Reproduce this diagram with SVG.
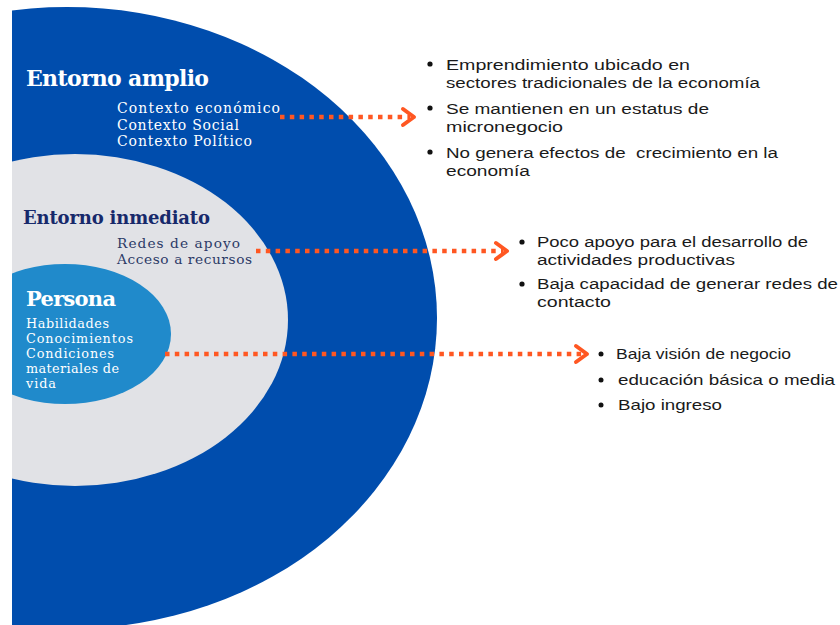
<svg xmlns="http://www.w3.org/2000/svg" width="840" height="625" viewBox="0 0 840 625">
<defs>
<clipPath id="clip"><rect x="12" y="0" width="828" height="625"/></clipPath>
<style>
.serif{font-family:"DejaVu Serif","Liberation Serif",serif;}
.title{font-weight:bold;}
.w{fill:#ffffff;}
.list{font-family:"Liberation Sans","Noto Sans",sans-serif;font-size:15.5px;fill:#1a1a1a;}
.list3{font-family:"Liberation Sans","Noto Sans",sans-serif;font-size:15px;fill:#1a1a1a;}
.dots{fill:none;stroke:#ff5722;stroke-width:4.5;stroke-dasharray:4.5 5.3;}
.head{fill:none;stroke:#ff5722;stroke-width:4;stroke-linecap:round;stroke-linejoin:round;}
.bullet{fill:#111111;}
</style>
</defs>
<rect width="840" height="625" fill="#ffffff"/>
<g clip-path="url(#clip)">
<g id="entorno-amplio">
<ellipse cx="67" cy="318" rx="370" ry="311" fill="#004dad"/>
</g>
<g id="entorno-inmediato">
<ellipse cx="75" cy="320" rx="213" ry="166" fill="#e1e2e6"/>
</g>
<g id="persona">
<ellipse cx="65" cy="334" rx="106" ry="70" fill="#208acb"/>
</g>
</g>
<g id="labels-amplio" class="serif">
<text x="26" y="86" class="title w" font-size="22" textLength="183">Entorno amplio</text>
<text x="117" y="113" class="w" font-size="14" textLength="163">Contexto económico</text>
<text x="117" y="129.5" class="w" font-size="14" textLength="122">Contexto Social</text>
<text x="117" y="146" class="w" font-size="14" textLength="135">Contexto Político</text>
</g>
<g id="labels-inmediato" class="serif">
<text x="23" y="224" class="title" font-size="18" fill="#17296b" textLength="187">Entorno inmediato</text>
<text x="117" y="248" font-size="13.7" fill="#2c3a66" textLength="123">Redes de apoyo</text>
<text x="117" y="264" font-size="13.7" fill="#2c3a66" textLength="135">Acceso a recursos</text>
</g>
<g id="labels-persona" class="serif">
<text x="26" y="306" class="title w" font-size="21" textLength="90">Persona</text>
<text x="26" y="328" class="w" font-size="12.8" textLength="83">Habilidades</text>
<text x="26" y="343" class="w" font-size="12.8" textLength="107">Conocimientos</text>
<text x="26" y="358" class="w" font-size="12.8" textLength="88">Condiciones</text>
<text x="26" y="373" class="w" font-size="12.8" textLength="93">materiales de</text>
<text x="26" y="388" class="w" font-size="12.8" textLength="30">vida</text>
</g>
<g id="connectors">
<line class="dots" x1="280" y1="117" x2="410" y2="117"/>
<polyline class="head" points="403,109 414,117 403,125"/>
<line class="dots" x1="256" y1="251" x2="503" y2="251"/>
<polyline class="head" points="496,243 507,251 496,259"/>
<line class="dots" x1="165" y1="354" x2="583" y2="354"/>
<polyline class="head" points="576,346 587,354 576,362"/>
</g>
<g id="list-amplio" class="list">
<circle class="bullet" cx="430" cy="64" r="2.6"/>
<circle class="bullet" cx="430" cy="108" r="2.6"/>
<circle class="bullet" cx="430" cy="152" r="2.6"/>
<text x="446" y="70" textLength="244" lengthAdjust="spacingAndGlyphs">Emprendimiento ubicado en</text>
<text x="446" y="88" textLength="314" lengthAdjust="spacingAndGlyphs">sectores tradicionales de la economía</text>
<text x="446" y="114" textLength="263" lengthAdjust="spacingAndGlyphs">Se mantienen en un estatus de</text>
<text x="446" y="132" textLength="117" lengthAdjust="spacingAndGlyphs">micronegocio</text>
<text x="446" y="158" textLength="332" lengthAdjust="spacingAndGlyphs" xml:space="preserve">No genera efectos de  crecimiento en la</text>
<text x="446" y="176" textLength="84" lengthAdjust="spacingAndGlyphs">economía</text>
</g>
<g id="list-inmediato" class="list">
<circle class="bullet" cx="522" cy="242" r="2.6"/>
<circle class="bullet" cx="522" cy="284" r="2.6"/>
<text x="537" y="247" textLength="271" lengthAdjust="spacingAndGlyphs">Poco apoyo para el desarrollo de</text>
<text x="537" y="265" textLength="198" lengthAdjust="spacingAndGlyphs">actividades productivas</text>
<text x="537" y="289" textLength="301" lengthAdjust="spacingAndGlyphs">Baja capacidad de generar redes de</text>
<text x="537" y="307" textLength="74" lengthAdjust="spacingAndGlyphs">contacto</text>
</g>
<g id="list-persona" class="list3">
<circle class="bullet" cx="601" cy="354" r="2.5"/>
<circle class="bullet" cx="601" cy="380" r="2.5"/>
<circle class="bullet" cx="601" cy="405" r="2.5"/>
<text x="616" y="359" textLength="175" lengthAdjust="spacingAndGlyphs">Baja visión de negocio</text>
<text x="618" y="385" textLength="217" lengthAdjust="spacingAndGlyphs">educación básica o media</text>
<text x="618" y="410" textLength="104" lengthAdjust="spacingAndGlyphs">Bajo ingreso</text>
</g>
</svg>
